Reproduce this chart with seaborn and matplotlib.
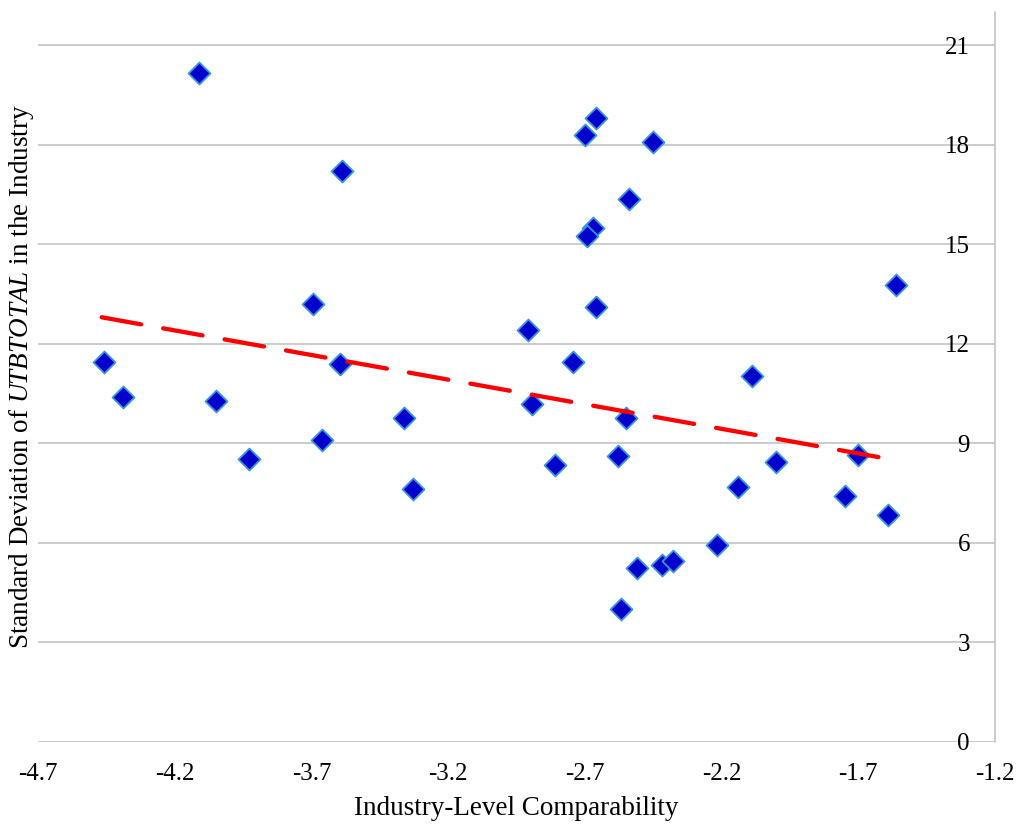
import numpy as np
import pandas as pd
import matplotlib
matplotlib.use("Agg")
import matplotlib.pyplot as plt
import seaborn as sns

# industry-level comparability (x) vs std. dev. of UTBTOTAL (y)
comparability = [-4.460, -4.389, -4.110, -4.049, -3.928, -3.695, -3.660, -3.589,
                 -3.595, -3.360, -3.330,
                 -2.659, -2.698, -2.449, -2.539, -2.669, -2.691, -1.563, -2.659,
                 -2.909, -2.744, -2.090, -2.892, -2.549, -2.809, -2.580, -1.700,
                 -2.000, -2.139, -1.748, -1.590, -2.218, -2.511, -2.419, -2.379,
                 -2.569]
std_utbtotal = [11.45, 10.40, 20.17, 10.29, 8.53, 13.21, 9.09, 17.22,
                11.39, 9.76, 7.61,
                18.81, 18.30, 18.07, 16.37, 15.49, 15.24, 13.76, 13.11,
                12.42, 11.46, 11.02, 10.18, 9.76, 8.35, 8.63, 8.65,
                8.45, 7.67, 7.40, 6.85, 5.94, 5.24, 5.34, 5.44,
                4.00]

# linear trend line (end points as drawn)
trend_x = [-4.467, -1.602]
trend_y = [12.80, 8.55]

x_ticks = [-4.7, -4.2, -3.7, -3.2, -2.7, -2.2, -1.7, -1.2]
y_ticks = [0, 3, 6, 9, 12, 15, 18, 21]

df = pd.DataFrame({"x": comparability, "y": std_utbtotal})
trend = pd.DataFrame({"x": trend_x, "y": trend_y})

sns.set_style("white")
plt.rcParams["font.family"] = ["Liberation Serif", "DejaVu Serif"]
plt.rcParams["mathtext.fontset"] = "custom"
plt.rcParams["mathtext.rm"] = "Liberation Serif"
plt.rcParams["mathtext.it"] = "Liberation Serif:italic"
plt.rcParams["text.color"] = "black"
plt.rcParams["axes.labelcolor"] = "black"
plt.rcParams["xtick.color"] = "black"
plt.rcParams["ytick.color"] = "black"

fig = plt.figure(figsize=(10.18, 8.27), dpi=100)
ax = fig.add_axes([0.0373, 0.1028, 0.9401, 0.8827])

grid_col = "#BFBFBF"
for v in y_ticks:
    ax.axhline(v, color=grid_col, lw=1.1, zorder=0)

sns.lineplot(data=trend, x="x", y="y", ax=ax, color="#FF0000", lw=3.1,
             dashes=False, zorder=3)
ax.lines[-1].set_dashes([9.3, 5.2])
ax.lines[-1].set_dash_capstyle("round")

sns.scatterplot(data=df, x="x", y="y", ax=ax, marker="D", s=125,
                color="#0000CD", edgecolor="#3A96DC", linewidth=1.3, zorder=2)

ax.set_xlim(-4.7, -1.2)
ax.set_ylim(0, 22)
ax.set_xticks(x_ticks)
ax.set_xticklabels([f"{t:.1f}" for t in x_ticks])
ax.set_yticks(y_ticks)
ax.set_yticklabels([str(t) for t in y_ticks])

for s in ["top", "left", "bottom"]:
    ax.spines[s].set_visible(False)
ax.spines["right"].set_color(grid_col)
ax.spines["right"].set_linewidth(1.1)

ax.tick_params(axis="x", length=0, pad=15, labelsize=18, labelcolor="black")
ax.tick_params(axis="y", left=False, labelleft=False, right=True, labelright=True,
               length=0, pad=-18, labelsize=18, labelcolor="black")
for t in ax.get_yticklabels():
    t.set_horizontalalignment("right")

ax.set_xlabel("Industry-Level Comparability", fontsize=19.5, labelpad=8,
              color="black")
ax.set_ylabel("Standard Deviation of $\\mathit{UTBTOTAL}$ in the Industry",
              fontsize=19.5, color="black")
ax.yaxis.set_label_position("left")
ax.yaxis.set_label_coords(-0.002, 0.5)

fig.savefig("out.png", dpi=100)
